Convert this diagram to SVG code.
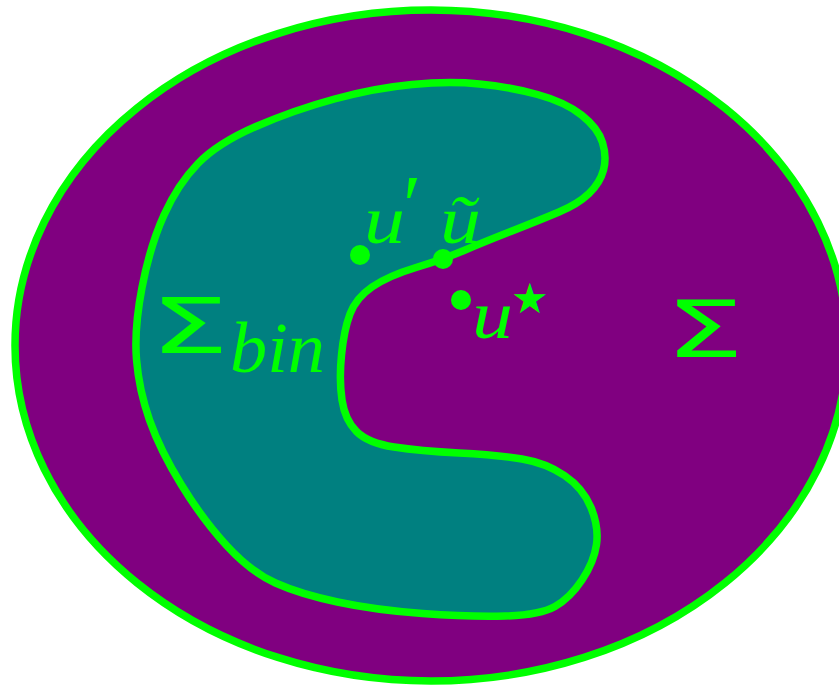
<svg xmlns="http://www.w3.org/2000/svg" width="839" height="688" viewBox="0 0 839 688">
<style>
.ln{stroke:#00ff00;stroke-width:7.5;stroke-linejoin:round}
.lbl{fill:#00ff00;font-family:"Liberation Serif",serif}
.it{font-style:italic}
.sig{font-family:"DejaVu Sans",sans-serif}
.dot{fill:#00ff00}
</style>
<rect width="839" height="688" fill="#ffffff"/>
<g id="sigma">
<ellipse class="ln" cx="431" cy="345.5" rx="416" ry="335.5" fill="#800080" stroke-width="8"/>
<text class="lbl sig" x="665" y="357" font-size="78" textLength="79" lengthAdjust="spacingAndGlyphs">Σ</text>
</g>
<g id="sigma-bin">
<path class="ln" fill="#008080" d="M416,267.5 Q444,259 464,250.5 Q484,242 512,231 Q540,220 559,212 Q578,204 589,193.5 Q600,183 603.5,170 Q607,157 602.5,142.5 Q598,128 581.5,115 Q565,102 537.5,94.5 Q510,87 479.5,84 Q449,81 412,84.5 Q375,88 334.5,99 Q294,110 256,126.5 Q218,143 198,163.5 Q178,184 164,215 Q150,246 142,287.5 Q134,329 136.5,359.5 Q139,390 149.5,420 Q160,450 181.5,485 Q203,520 227,546 Q251,572 275.5,583 Q300,594 337.5,602 Q375,610 422.5,613.5 Q470,617 505,616 Q540,615 555,606.5 Q570,598 582,580 Q594,562 596.5,544.5 Q599,527 591,507.5 Q583,488 564.5,475.5 Q546,463 522,459 Q498,455 459,453 Q420,451 394,447 Q368,443 356.5,431.5 Q345,420 342,400 Q339,380 341.5,355 Q344,330 350,314 Q356,298 372,287 Q388,276 416,267.5 Z"/>
<text class="lbl sig" x="150" y="353" font-size="76" textLength="79" lengthAdjust="spacingAndGlyphs">Σ</text>
<text class="lbl it" x="230" y="372" font-size="72" textLength="95" lengthAdjust="spacingAndGlyphs">bin</text>
</g>
<g id="u-prime">
<circle class="dot" cx="360" cy="255" r="10"/>
<text class="lbl it" x="364" y="243" font-size="68" textLength="41" lengthAdjust="spacingAndGlyphs">u</text>
<text class="lbl" x="403" y="234" font-size="84" font-family="DejaVu Sans,sans-serif">′</text>
</g>
<g id="u-tilde">
<circle class="dot" cx="443" cy="259" r="10"/>
<text class="lbl it" x="440" y="243" font-size="68" textLength="41" lengthAdjust="spacingAndGlyphs">ũ</text>
</g>
<g id="u-star">
<circle class="dot" cx="461" cy="300" r="10"/>
<text class="lbl it" x="472" y="338" font-size="68" textLength="41" lengthAdjust="spacingAndGlyphs">u</text>
<text class="lbl" x="511" y="313" font-size="42" font-family="DejaVu Sans,sans-serif">★</text>
</g>
<g id="connectors"/>
</svg>
